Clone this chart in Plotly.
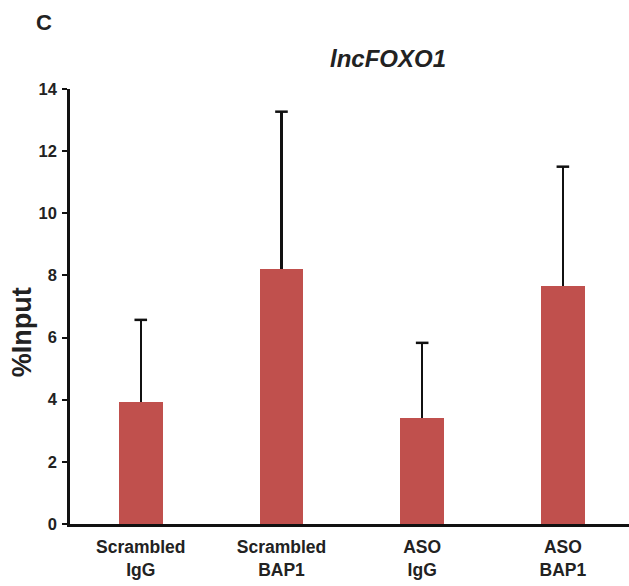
import plotly.graph_objects as go

categories = ["Scrambled<br>IgG", "Scrambled<br>BAP1", "ASO<br>IgG", "ASO<br>BAP1"]
values = [3.93, 8.22, 3.42, 7.65]
errors = [2.64, 5.05, 2.41, 3.85]
y_ticks = [0, 2, 4, 6, 8, 10, 12, 14]

caps = [v + e for v, e in zip(values, errors)]

fig = go.Figure()
fig.add_trace(go.Bar(
    x=categories, y=values, width=0.31,
    marker=dict(color="#C0504D", line=dict(width=0)),
    error_y=dict(type="data", symmetric=False, array=errors,
                 arrayminus=[0] * len(errors), width=0, thickness=2.5, color="#111111"),
    showlegend=False,
))
fig.add_trace(go.Scatter(
    x=categories, y=caps, mode="markers",
    marker=dict(symbol="line-ew-open", size=9, color="#111111",
                line=dict(width=2.5, color="#111111")),
    showlegend=False, hoverinfo="skip",
))

fig.update_layout(
    width=629, height=586,
    margin=dict(l=70, r=0, t=89, b=62, autoexpand=False),
    plot_bgcolor="white", paper_bgcolor="white",
    font=dict(family="Liberation Sans, Arial, sans-serif", color="#222222"),
    bargap=0,
)
fig.update_xaxes(
    range=[-0.503, 3.47], showline=True, linewidth=2.5, linecolor="#111111",
    ticks="", showgrid=False, zeroline=False,
    tickfont=dict(size=17.5, family="Liberation Sans, Arial, sans-serif", weight="bold", color="#222222"),
    ticklabelstandoff=5,
)
fig.update_yaxes(
    range=[0, 14], tickvals=y_ticks, showline=True, linewidth=2.5, linecolor="#111111",
    ticks="outside", ticklen=5, tickwidth=2, tickcolor="#111111",
    showgrid=False, zeroline=False,
    tickfont=dict(size=16.5, family="Liberation Sans Narrow, Arial Narrow, Liberation Sans, sans-serif",
                  weight="bold", color="#222222"),
    ticklabelstandoff=2,
)

fig.add_annotation(text="<b><i>lncFOXO1</i></b>", xref="paper", yref="paper",
                   x=0.569, y=1.071, xanchor="center", yanchor="middle",
                   showarrow=False, font=dict(size=24, color="#222222"))
fig.add_annotation(text="<b>C</b>", xref="paper", yref="paper",
                   x=-0.0465, y=1.154, xanchor="center", yanchor="middle",
                   showarrow=False, font=dict(size=22, color="#222222"))
fig.add_annotation(text="<b>%Input</b>", xref="paper", yref="paper",
                   x=-0.0859, y=0.441, xanchor="center", yanchor="middle", textangle=-90,
                   showarrow=False, font=dict(size=27, color="#222222"))

fig.write_html("out.html", config={"displayModeBar": False},
               post_script="document.body.style.margin='0';")
